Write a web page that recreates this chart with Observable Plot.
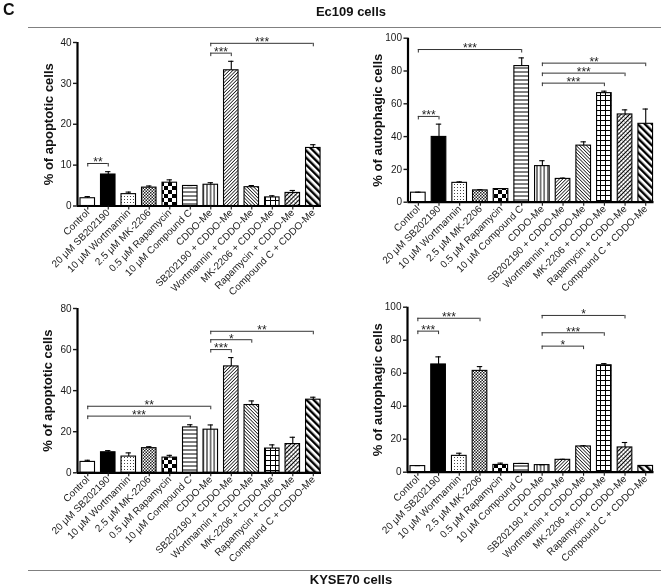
<!DOCTYPE html>
<html>
<head>
<meta charset="utf-8">
<script src="https://cdn.jsdelivr.net/npm/d3@7"></script>
<script src="https://cdn.jsdelivr.net/npm/@observablehq/plot@0.6"></script>
<style>
html, body { margin: 0; padding: 0; background: #fff; }
#root { position: relative; width: 661px; height: 586px; overflow: hidden; font-family: "Liberation Sans", Arial, sans-serif; color: #111; filter: grayscale(1); }
.panel { position: absolute; }
.panel svg { overflow: visible; }
.hr { position: absolute; left: 28px; width: 633px; height: 0; border-top: 1.5px solid #808080; }
.title { position: absolute; left: 0; width: 702px; height: 16px; line-height: 16px; text-align: center; font-family: "Liberation Sans Narrow", "Liberation Sans", Arial, sans-serif; font-weight: bold; font-size: 13px; white-space: nowrap; }
</style>
</head>
<body>
<div id="root">
  <svg width="0" height="0" style="position:absolute">
    <defs>
      <pattern id="pat0" width="4" height="4" patternUnits="userSpaceOnUse"><rect width="4" height="4" fill="#fff"/></pattern>
      <pattern id="pat1" width="4" height="4" patternUnits="userSpaceOnUse"><rect width="4" height="4" fill="#000"/></pattern>
      <pattern id="pat2" width="3" height="3" patternUnits="userSpaceOnUse"><rect width="3" height="3" fill="#fff"/><rect x="1" y="1" width="1" height="1" fill="#444"/></pattern>
      <pattern id="pat3" width="3" height="3" patternUnits="userSpaceOnUse"><rect width="3" height="3" fill="#fff"/><rect width="1.5" height="1.5" fill="#222"/><rect x="1.5" y="1.5" width="1.5" height="1.5" fill="#222"/></pattern>
      <pattern id="pat4" width="8" height="8" patternUnits="userSpaceOnUse"><rect width="8" height="8" fill="#fff"/><rect width="4" height="4" fill="#000"/><rect x="4" y="4" width="4" height="4" fill="#000"/></pattern>
      <pattern id="pat5" width="4" height="4" patternUnits="userSpaceOnUse"><rect width="4" height="4" fill="#fff"/><line x1="0" y1="2" x2="4" y2="2" stroke="#000" stroke-width="1"/></pattern>
      <pattern id="pat6" width="3.6" height="4" patternUnits="userSpaceOnUse"><rect width="3.6" height="4" fill="#fff"/><line x1="1.8" y1="0" x2="1.8" y2="4" stroke="#000" stroke-width="1"/></pattern>
      <pattern id="pat7" width="2.4" height="4" patternUnits="userSpaceOnUse" patternTransform="rotate(45)"><rect width="2.4" height="4" fill="#fff"/><line x1="1.2" y1="0" x2="1.2" y2="4" stroke="#000" stroke-width="0.8"/></pattern>
      <pattern id="pat8" width="2.4" height="4" patternUnits="userSpaceOnUse" patternTransform="rotate(-45)"><rect width="2.4" height="4" fill="#fff"/><line x1="1.2" y1="0" x2="1.2" y2="4" stroke="#000" stroke-width="0.8"/></pattern>
      <pattern id="pat9" width="5" height="5" patternUnits="userSpaceOnUse"><rect width="5" height="5" fill="#fff"/><path d="M0,0.5H5M0.5,0V5" stroke="#000" stroke-width="1" fill="none"/></pattern>
      <pattern id="pat10" width="3" height="3" patternUnits="userSpaceOnUse" patternTransform="rotate(45)"><rect width="3" height="3" fill="#fff"/><line x1="1.5" y1="0" x2="1.5" y2="3" stroke="#000" stroke-width="1"/><line x1="0" y1="0.5" x2="3" y2="0.5" stroke="#000" stroke-width="0.5" stroke-opacity="0.6"/></pattern>
      <pattern id="pat11" width="5" height="5" patternUnits="userSpaceOnUse" patternTransform="rotate(-45)"><rect width="5" height="5" fill="#fff"/><rect x="0" y="0" width="2.4" height="5" fill="#000"/></pattern>
    </defs>
  </svg>
  <div style="position:absolute;left:3px;top:1px;font-weight:bold;font-size:16px;font-family:'Liberation Sans Narrow','Liberation Sans',Arial,sans-serif;">C</div>
  <div class="title" style="top:4px;">Ec109 cells</div>
  <div class="hr" style="top:27px;"></div>
  <div class="hr" style="top:570px;"></div>
  <div class="title" style="top:572px;">KYSE70 cells</div>
  <div id="tl" class="panel" style="left:0px;top:30px;"></div>
  <div id="tr" class="panel" style="left:330px;top:30px;"></div>
  <div id="bl" class="panel" style="left:0px;top:300px;"></div>
  <div id="br" class="panel" style="left:330px;top:300px;"></div>
</div>
<script>
const categories = [
  "Control", "20 μM SB202190", "10 μM Wortmannin", "2.5 μM MK-2206", "0.5 μM Rapamycin",
  "10 μM Compound C", "CDDO-Me", "SB202190 + CDDO-Me", "Wortmannin + CDDO-Me",
  "MK-2206 + CDDO-Me", "Rapamycin + CDDO-Me", "Compound C + CDDO-Me"
];

const apoptoticEc109    = [1.9, 7.7, 2.9, 4.5, 5.7, 4.9, 5.2, 33.2, 4.6, 2.1, 3.2, 14.2];
const apoptoticEc109Err = [0.4, 0.7, 0.5, 0.4, 0.7, 0.1, 0.5, 2.2, 0.4, 0.4, 0.6, 0.8];
const autophagicEc109    = [5.8, 39.8, 11.8, 7.2, 8.0, 83.0, 22.0, 14.2, 34.5, 66.5, 53.5, 47.8];
const autophagicEc109Err = [0.3, 7.8, 0.6, 0.4, 0.3, 5.0, 3.3, 0.5, 2.3, 1.2, 2.8, 9.0];
const apoptoticKyse70    = [5.3, 10.0, 7.9, 12.0, 7.4, 22.1, 21.0, 51.8, 33.0, 11.8, 14.0, 35.6];
const apoptoticKyse70Err = [0.8, 0.8, 1.8, 0.7, 1.1, 1.3, 2.3, 4.3, 2.0, 1.8, 3.3, 1.2];
const autophagicKyse70    = [3.7, 65.3, 9.9, 61.4, 4.4, 5.0, 4.3, 7.5, 15.6, 64.8, 15.0, 3.8];
const autophagicKyse70Err = [0.3, 4.6, 1.6, 2.6, 1.1, 0.3, 0.2, 0.3, 0.4, 1.0, 3.0, 0.2];

// significance brackets: [from index, to index, height, label]
const bracketsApopEc109 = [[0, 1, 10.4, "**"], [6, 7, 37.4, "***"], [6, 11, 39.8, "***"]];
const bracketsAutoEc109 = [[0, 1, 52.3, "***"], [0, 5, 93.1, "***"], [6, 9, 72.6, "***"], [6, 10, 78.7, "***"], [6, 11, 84.8, "**"]];
const bracketsApopKyse70 = [[0, 6, 32.4, "**"], [0, 5, 27.6, "***"], [6, 7, 60.0, "***"], [6, 8, 64.8, "*"], [6, 11, 68.9, "**"]];
const bracketsAutoKyse70 = [[0, 1, 85.5, "***"], [0, 3, 93.3, "***"], [6, 8, 76.4, "*"], [6, 9, 84.5, "***"], [6, 10, 95.0, "*"]];

const yTicksApopEc109 = [0, 10, 20, 30, 40];
const yTicksAuto = [0, 20, 40, 60, 80, 100];
const yTicksApopKyse70 = [0, 20, 40, 60, 80];

const xDomain = [-0.5, 11.4];
const font = '"Liberation Sans", Arial, sans-serif';

function panel(el, {values, errors, brackets, yMax, yTicks, yLabel, width, height, marginTop, marginBottom, marginLeft, marginRight, labelDx}) {
  const rows = categories.map((c, i) => ({i, c, v: values[i], e: errors[i]}));
  const plotH = height - marginTop - marginBottom;
  const tick = 3.5 * yMax / plotH;
  const ends = brackets.flatMap(([a, b, y]) => [{x: a, y}, {x: b, y}]);
  const svg = Plot.plot({
    width, height, marginTop, marginBottom, marginLeft, marginRight,
    style: {fontFamily: font, fontSize: "10px", color: "#1a1a1a", background: "transparent", overflow: "visible"},
    x: {domain: xDomain, axis: null},
    y: {domain: [0, yMax], axis: null},
    color: {type: "identity"},
    marks: [
      Plot.rectY(rows, {x1: d => d.i - 0.354, x2: d => d.i + 0.354, y1: 0, y2: "v", fill: d => `url(#pat${d.i})`, stroke: "#000", strokeWidth: 1.1}),
      Plot.ruleX(rows, {x: "i", y1: "v", y2: d => d.v + d.e, stroke: "#000", strokeWidth: 1.1}),
      Plot.ruleY(rows, {x1: d => d.i - 0.13, x2: d => d.i + 0.13, y: d => d.v + d.e, stroke: "#000", strokeWidth: 1.1}),
      Plot.ruleY(brackets, {x1: d => d[0], x2: d => d[1], y: d => d[2], stroke: "#333", strokeWidth: 1}),
      Plot.ruleX(ends, {x: "x", y1: "y", y2: d => d.y - tick, stroke: "#333", strokeWidth: 1}),
      Plot.text(brackets, {x: d => (d[0] + d[1]) / 2, y: d => d[2], text: d => d[3], dy: -1, fontSize: 12, fill: "#222"}),
      Plot.ruleY([0], {stroke: "#000", strokeWidth: 2.2}),
      Plot.ruleX([xDomain[0]], {stroke: "#000", strokeWidth: 2.2}),
      Plot.axisY({ticks: yTicks, tickSize: 4, tickPadding: 2, label: null, strokeWidth: 1.4, fontSize: 10}),
      Plot.axisX({ticks: d3.range(categories.length), tickFormat: i => categories[i], tickRotate: -45, tickSize: 4, tickPadding: 1, label: null, strokeWidth: 1.1, fontSize: 10}),
      Plot.text([yLabel], {text: d => d, frameAnchor: "left", textAnchor: "middle", rotate: -90, dx: labelDx, fontWeight: "bold", fontSize: 13, fill: "#111"})
    ]
  });
  document.getElementById(el).appendChild(svg);
}

panel("tl", {values: apoptoticEc109, errors: apoptoticEc109Err, brackets: bracketsApopEc109, yMax: 40, yTicks: yTicksApopEc109,
  yLabel: "% of apoptotic cells", width: 330, height: 270, marginTop: 12, marginBottom: 94.5, marginLeft: 77, marginRight: 9, labelDx: -29});
panel("tr", {values: autophagicEc109, errors: autophagicEc109Err, brackets: bracketsAutoEc109, yMax: 100, yTicks: yTicksAuto,
  yLabel: "% of autophagic cells", width: 331, height: 270, marginTop: 7.7, marginBottom: 98.3, marginLeft: 77.5, marginRight: 7.5, labelDx: -30});
panel("bl", {values: apoptoticKyse70, errors: apoptoticKyse70Err, brackets: bracketsApopKyse70, yMax: 80, yTicks: yTicksApopKyse70,
  yLabel: "% of apoptotic cells", width: 330, height: 270, marginTop: 8, marginBottom: 97.7, marginLeft: 77, marginRight: 9, labelDx: -30});
panel("br", {values: autophagicKyse70, errors: autophagicKyse70Err, brackets: bracketsAutoKyse70, yMax: 100, yTicks: yTicksAuto,
  yLabel: "% of autophagic cells", width: 331, height: 270, marginTop: 6.7, marginBottom: 98.3, marginLeft: 77, marginRight: 7.5, labelDx: -30});
</script>
</body>
</html>
